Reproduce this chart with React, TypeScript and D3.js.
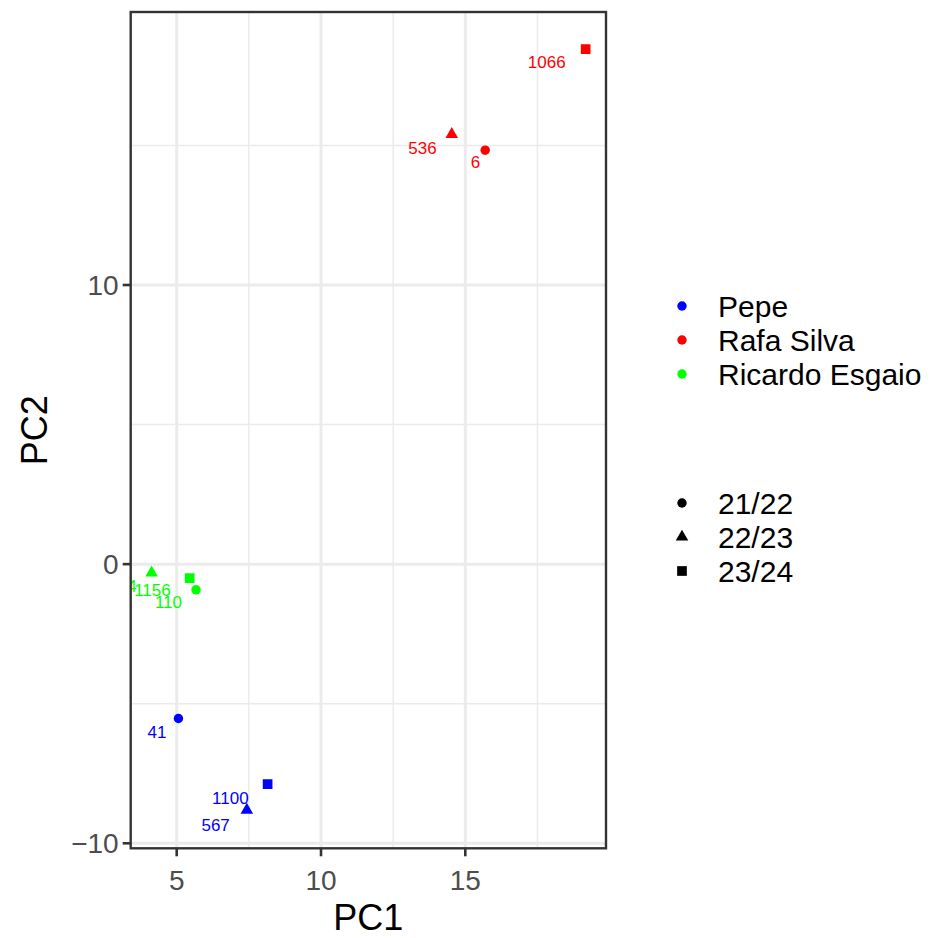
import React from 'react'
import * as d3 from 'd3'

// PCA scatter: players by season
const players = ['Pepe', 'Rafa Silva', 'Ricardo Esgaio']
const seasons = ['21/22', '22/23', '23/24']
const playerColors = ['#0000FF', '#FF0000', '#00FF00']

// one entry per point
const pointPlayer = [0, 0, 0, 1, 1, 1, 2, 2, 2]
const pointSeason = [0, 1, 2, 0, 1, 2, 0, 1, 2]
const pointIds = ['41', '567', '1100', '6', '536', '1066', '110', '4', '1156']
const pc1 = [5.06, 7.43, 8.15, 15.69, 14.53, 19.17, 5.67, 4.13, 5.45]
const pc2 = [-5.53, -8.81, -7.88, 14.83, 15.4, 18.45, -0.92, -0.31, -0.5]

const xTicks = [5, 10, 15]
const yTicks = [-10, 0, 10]

// repelled label offsets (px, text end / baseline relative to point)
const labelDx = [-12, -17, -19, -5, -15, -20, -14, -15, -19]
const labelDy = [19, 21, 20, 18, 20, 19, 18, 19, 18]

const W = 931
const H = 938
const panel = {left: 130.7, right: 606, top: 12, bottom: 848.3}

export default function App() {
  const x = d3.scaleLinear().domain([3.406, 19.875]).range([panel.left, panel.right])
  const y = d3.scaleLinear().domain([-10.18, 19.78]).range([panel.bottom, panel.top])

  const xMinor = [2.5, 7.5, 12.5, 17.5].filter(v => x(v) > panel.left && x(v) < panel.right)
  const yMinor = [-5, 5, 15]

  const symbolTypes = [d3.symbolCircle, d3.symbolTriangle, d3.symbolSquare]
  const symbolSizes = [70, 68, 94]
  const sym = (s: number) => d3.symbol().type(symbolTypes[s]).size(symbolSizes[s])()

  const font = '"Liberation Sans", Arial, sans-serif'

  return (
    <svg width={W} height={H} style={{position: 'absolute', left: 0, top: 0, background: '#fff'}} fontFamily={font}>
      <defs>
        <clipPath id="panel-clip">
          <rect x={panel.left} y={panel.top} width={panel.right - panel.left} height={panel.bottom - panel.top} />
        </clipPath>
      </defs>
      <rect x={panel.left} y={panel.top} width={panel.right - panel.left} height={panel.bottom - panel.top} fill="#fff" />

      {/* grid */}
      <g stroke="#EBEBEB">
        {xMinor.map(v => <line key={'xm' + v} x1={x(v)} x2={x(v)} y1={panel.top} y2={panel.bottom} strokeWidth={1.5} />)}
        {yMinor.map(v => <line key={'ym' + v} y1={y(v)} y2={y(v)} x1={panel.left} x2={panel.right} strokeWidth={1.5} />)}
        {xTicks.map(v => <line key={'x' + v} x1={x(v)} x2={x(v)} y1={panel.top} y2={panel.bottom} strokeWidth={3} />)}
        {yTicks.map(v => <line key={'y' + v} y1={y(v)} y2={y(v)} x1={panel.left} x2={panel.right} strokeWidth={3} />)}
      </g>

      {/* points + labels */}
      <g clipPath="url(#panel-clip)">
        {pc1.map((v, i) => (
          <path key={'p' + i} d={sym(pointSeason[i]) || ''}
            transform={`translate(${x(v)},${y(pc2[i])})`}
            fill={playerColors[pointPlayer[i]]} />
        ))}
        {pc1.map((v, i) => (
          <text key={'l' + i} x={x(v) + labelDx[i]} y={y(pc2[i]) + labelDy[i]}
            textAnchor="end" fontSize={17} fill={playerColors[pointPlayer[i]]}>
            {pointIds[i]}
          </text>
        ))}
      </g>

      <rect x={panel.left} y={panel.top} width={panel.right - panel.left} height={panel.bottom - panel.top}
        fill="none" stroke="#333333" strokeWidth={2.4} />

      {/* axes */}
      <g stroke="#333333" strokeWidth={2.6}>
        {xTicks.map(v => <line key={'xt' + v} x1={x(v)} x2={x(v)} y1={panel.bottom} y2={panel.bottom + 8} />)}
        {yTicks.map(v => <line key={'yt' + v} y1={y(v)} y2={y(v)} x1={panel.left - 8} x2={panel.left} />)}
      </g>
      <g fill="#4D4D4D" fontSize={28}>
        {xTicks.map(v => (
          <text key={'xl' + v} x={x(v)} y={panel.bottom + 42} textAnchor="middle">{v}</text>
        ))}
        {yTicks.map(v => (
          <text key={'yl' + v} x={panel.left - 12} y={y(v)} dy="0.36em" textAnchor="end">
            {v < 0 ? '\u2212' + Math.abs(v) : v}
          </text>
        ))}
      </g>
      <text x={(panel.left + panel.right) / 2} y={930} textAnchor="middle" fontSize={36} fill="#000">PC1</text>
      <text transform={`translate(47,${(panel.top + panel.bottom) / 2}) rotate(-90)`} textAnchor="middle" fontSize={36} fill="#000">PC2</text>

      {/* legends */}
      <g>
        {players.map((p, i) => (
          <g key={p} transform={`translate(682,${306 + i * 34})`}>
            <path d={sym(0) || ''} fill={playerColors[i]} />
            <text x={36} dy="0.36em" fontSize={30} fill="#000">{p}</text>
          </g>
        ))}
        {seasons.map((s, i) => (
          <g key={s} transform={`translate(682,${503 + i * 34})`}>
            <path d={sym(i) || ''} fill="#000" />
            <text x={36} dy="0.36em" fontSize={30} fill="#000">{s}</text>
          </g>
        ))}
      </g>
    </svg>
  )
}
